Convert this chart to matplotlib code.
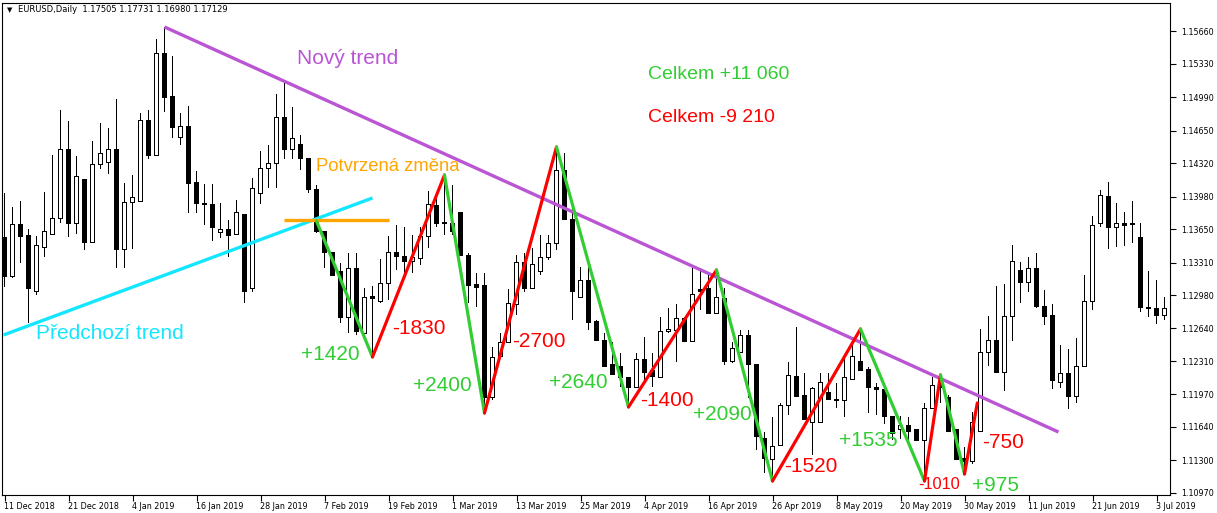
import matplotlib
matplotlib.use("Agg")
import matplotlib.pyplot as plt
from matplotlib.patches import Rectangle

# ---------------- data (EURUSD daily) ----------------
opens = [1.13559, 1.13163, 1.13691, 1.13589, 1.13011, 1.13467, 1.13599, 1.13752, 1.14462, 1.13711,
         1.14148, 1.13518, 1.14300, 1.14330, 1.14462, 1.13447, 1.13924, 1.13934, 1.14747, 1.14401,
         1.15427, 1.15000, 1.14574, 1.14686, 1.14127, 1.13914, 1.13894, 1.13610, 1.13650, 1.13599,
         1.13802, 1.13041, 1.14006, 1.14269, 1.14320, 1.14787, 1.14462, 1.14513, 1.14361, 1.14056,
         1.13620, 1.13407, 1.13214, 1.12747, 1.13254, 1.12594, 1.12960, 1.12909, 1.13092, 1.13407,
         1.13366, 1.13325, 1.13346, 1.13569, 1.13884, 1.13711, 1.13711, 1.13813, 1.13386, 1.13082,
         1.13072, 1.11935, 1.12351, 1.12493, 1.12879, 1.13305, 1.13051, 1.13214, 1.13356, 1.13498,
         1.14249, 1.13742, 1.12950, 1.13132, 1.12706, 1.12523, 1.12270, 1.12259, 1.12138, 1.12036,
         1.12330, 1.12209, 1.12138, 1.12605, 1.12615, 1.12737, 1.12513, 1.13031, 1.13041, 1.12797,
         1.12940, 1.12300, 1.12401, 1.12564, 1.12270, 1.11528, 1.11305, 1.11457, 1.11863, 1.12148,
         1.11955, 1.11681, 1.11681, 1.11995, 1.11914, 1.11914, 1.12127, 1.12300, 1.12219, 1.12046,
         1.12016, 1.11742, 1.11610, 1.11660, 1.11610, 1.11498, 1.11823, 1.12097, 1.11935, 1.11610,
         1.11325, 1.11285, 1.11599, 1.12401, 1.12523, 1.12198, 1.12757, 1.13224, 1.13112, 1.13254,
         1.12868, 1.12767, 1.12087, 1.12188, 1.11945, 1.12259, 1.12919, 1.13701, 1.13985, 1.13670,
         1.13701, 1.13701, 1.13559, 1.12858, 1.12848, 1.12767]
highs = [1.14016, 1.13874, 1.13934, 1.13650, 1.13579, 1.14026, 1.14401, 1.14858, 1.14747, 1.14391,
         1.14148, 1.14544, 1.14726, 1.14676, 1.14970, 1.14117, 1.14198, 1.14828, 1.14858, 1.15579,
         1.15701, 1.15406, 1.14828, 1.14899, 1.14239, 1.14107, 1.14107, 1.13914, 1.13742, 1.13945,
         1.13802, 1.14168, 1.14442, 1.14503, 1.15021, 1.15143, 1.14889, 1.14604, 1.14361, 1.14097,
         1.13620, 1.13407, 1.13305, 1.13407, 1.13407, 1.13051, 1.13072, 1.13346, 1.13579, 1.13691,
         1.13670, 1.13589, 1.13670, 1.14036, 1.13995, 1.14198, 1.14097, 1.13823, 1.13407, 1.13204,
         1.13204, 1.12452, 1.12594, 1.13041, 1.13386, 1.13407, 1.13457, 1.13589, 1.13589, 1.14483,
         1.14422, 1.13894, 1.13264, 1.13264, 1.12726, 1.12594, 1.12503, 1.12391, 1.12148, 1.12391,
         1.12554, 1.12391, 1.12757, 1.12848, 1.12889, 1.12757, 1.13254, 1.13254, 1.13204, 1.13234,
         1.13051, 1.12503, 1.12625, 1.12625, 1.12270, 1.11589, 1.11742, 1.11884, 1.12300, 1.12655,
         1.12188, 1.12046, 1.12188, 1.12188, 1.12087, 1.12351, 1.12554, 1.12635, 1.12249, 1.12087,
         1.12016, 1.11742, 1.11752, 1.11742, 1.11620, 1.11884, 1.12148, 1.12168, 1.11965, 1.11610,
         1.11437, 1.11792, 1.12635, 1.12767, 1.13072, 1.13092, 1.13488, 1.13315, 1.13366, 1.13407,
         1.13031, 1.12889, 1.12473, 1.12432, 1.12544, 1.13183, 1.13782, 1.14046, 1.14127, 1.13914,
         1.13823, 1.13934, 1.13711, 1.13224, 1.13132, 1.12960]
lows = [1.13061, 1.13153, 1.13305, 1.12696, 1.12980, 1.13366, 1.13599, 1.13711, 1.13569, 1.13599,
        1.13437, 1.13518, 1.14259, 1.14209, 1.13254, 1.13254, 1.13447, 1.13934, 1.14361, 1.14401,
        1.14838, 1.14574, 1.14503, 1.13813, 1.13813, 1.13691, 1.13528, 1.13559, 1.13366, 1.13599,
        1.12899, 1.13011, 1.13904, 1.14066, 1.14066, 1.14361, 1.14361, 1.14249, 1.14016, 1.13610,
        1.13254, 1.13173, 1.12696, 1.12594, 1.12574, 1.12554, 1.12351, 1.12899, 1.12929, 1.13234,
        1.13183, 1.13204, 1.13285, 1.13457, 1.13670, 1.13589, 1.13589, 1.13376, 1.12899, 1.12858,
        1.11782, 1.11914, 1.12341, 1.12493, 1.12777, 1.13011, 1.13051, 1.13183, 1.13335, 1.13437,
        1.13742, 1.12726, 1.12950, 1.12625, 1.12523, 1.12249, 1.12168, 1.12046, 1.11843, 1.12036,
        1.12117, 1.12046, 1.12138, 1.12594, 1.12300, 1.12503, 1.12513, 1.12828, 1.12797, 1.12797,
        1.12270, 1.12290, 1.12401, 1.11935, 1.11407, 1.11173, 1.11092, 1.11447, 1.11762, 1.11945,
        1.11721, 1.11356, 1.11681, 1.11914, 1.11833, 1.11742, 1.12127, 1.12209, 1.11782, 1.11762,
        1.11671, 1.11508, 1.11518, 1.11508, 1.11498, 1.11092, 1.11823, 1.11884, 1.11599, 1.11305,
        1.11163, 1.11264, 1.11599, 1.12259, 1.12188, 1.12006, 1.12513, 1.12899, 1.13011, 1.12848,
        1.12676, 1.12026, 1.12036, 1.11823, 1.11884, 1.12249, 1.12828, 1.13670, 1.13447, 1.13467,
        1.13478, 1.13508, 1.12808, 1.12757, 1.12686, 1.12726]
closes = [1.13163, 1.13691, 1.13579, 1.13051, 1.13478, 1.13620, 1.13752, 1.14462, 1.13701, 1.14188,
          1.13518, 1.14300, 1.14412, 1.14462, 1.13447, 1.13924, 1.13965, 1.14747, 1.14401, 1.15427,
          1.14990, 1.14676, 1.14686, 1.14117, 1.13904, 1.13894, 1.13670, 1.13650, 1.13589, 1.13813,
          1.13011, 1.14066, 1.14269, 1.14320, 1.14787, 1.14462, 1.14564, 1.14361, 1.14056, 1.13620,
          1.13407, 1.13183, 1.12747, 1.13254, 1.12605, 1.12950, 1.12940, 1.13092, 1.13407, 1.13366,
          1.13325, 1.13356, 1.13569, 1.13894, 1.13701, 1.13701, 1.13620, 1.13386, 1.13072, 1.13061,
          1.11935, 1.12341, 1.12493, 1.12889, 1.13305, 1.13051, 1.13285, 1.13356, 1.13498, 1.14249,
          1.13742, 1.13011, 1.13132, 1.12696, 1.12523, 1.12259, 1.12178, 1.12138, 1.12036, 1.12330,
          1.12198, 1.12148, 1.12605, 1.12625, 1.12737, 1.12513, 1.12990, 1.13011, 1.12797, 1.12950,
          1.12300, 1.12442, 1.12564, 1.12270, 1.11539, 1.11325, 1.11437, 1.11863, 1.12158, 1.11945,
          1.11721, 1.12026, 1.12087, 1.11924, 1.11924, 1.12138, 1.12351, 1.12209, 1.12036, 1.12016,
          1.11742, 1.11579, 1.11660, 1.11599, 1.11498, 1.11823, 1.12066, 1.12036, 1.11599, 1.11305,
          1.11285, 1.11681, 1.12401, 1.12523, 1.12198, 1.12757, 1.13325, 1.13102, 1.13254, 1.12868,
          1.12757, 1.12107, 1.12188, 1.11945, 1.12259, 1.12919, 1.13681, 1.13995, 1.13670, 1.13701,
          1.13681, 1.13691, 1.12858, 1.12848, 1.12767, 1.12848]

date_labels = ["11 Dec 2018", "21 Dec 2018", "4 Jan 2019", "16 Jan 2019", "28 Jan 2019",
               "7 Feb 2019", "19 Feb 2019", "1 Mar 2019", "13 Mar 2019", "25 Mar 2019",
               "4 Apr 2019", "16 Apr 2019", "26 Apr 2019", "8 May 2019", "20 May 2019",
               "30 May 2019", "11 Jun 2019", "21 Jun 2019", "3 Jul 2019"]
date_label_step = 8
price_ticks = [1.15660, 1.15330, 1.14990, 1.14650, 1.14320, 1.13980, 1.13650, 1.13310,
               1.12980, 1.12640, 1.12310, 1.11970, 1.11640, 1.11300, 1.10970]

# zigzag swing points (bar index, price)
zz_idx = [39, 46, 55, 60, 69, 78, 89, 96, 107, 115, 117, 120, 121.6]
zz_price = [1.13731, 1.12351, 1.14198, 1.11782, 1.14483, 1.11843, 1.13234, 1.11092,
            1.12635, 1.11092, 1.12168, 1.11163, 1.11884]
# trend lines (bar index, price)
new_trend_idx = [20, 131.75]
new_trend_price = [1.15701, 1.11589]
prev_trend_idx = [-0.125, 46]
prev_trend_price = [1.12574, 1.13965]
confirm_idx = [34.9, 48]
confirm_price = 1.13742

# swing labels: text, bar index, price, colour
swing_labels = [
    ("+1420", 37.0, 1.12371, "g"), ("-1830", 48.5, 1.12645, "r"),
    ("+2400", 51.1, 1.12066, "g"), ("-2700", 63.5, 1.12503, "r"),
    ("+2640", 68.1, 1.12087, "g"), ("-1400", 79.5, 1.11904, "r"),
    ("+2090", 86.1, 1.11762, "g"), ("-1520", 97.5, 1.11244, "r"),
    ("+1535", 104.25, 1.11498, "g"), ("+975", 120.9, 1.11051, "g"),
    ("-750", 122.25, 1.11478, "r"),
]

GREEN = "#32CD32"
RED = "#FF0000"
PURPLE = "#BA55D3"
CYAN = "#14E6FF"
ORANGE = "#FFA500"

W, H = 1217, 513
fig = plt.figure(figsize=(W / 100, H / 100), dpi=100)
fig.patch.set_facecolor("white")
ax = fig.add_axes([2 / W, 18 / H, 1168 / W, 492 / H])
ax.set_facecolor("white")

n = len(opens)
xs = list(range(n))
px = 1 / 8.0          # one pixel in bar units
ppx = 0.00010152      # one pixel in price units

# candles: wick, black outer body, white inner body for bullish bars
for i in xs:
    o, h, l, c = opens[i], highs[i], lows[i], closes[i]
    ax.add_patch(Rectangle((i - 0.5 * px, l), px, h - l, facecolor="black",
                           edgecolor="none", lw=0, zorder=2, antialiased=False))
    bottom = min(o, c)
    height = max(abs(c - o), ppx)
    ax.add_patch(Rectangle((i - 2.5 * px, bottom - 0.5 * ppx), 5 * px, height + ppx,
                           facecolor="black", edgecolor="none", lw=0, zorder=3,
                           antialiased=False))
    if c > o and height > 1.5 * ppx:
        ax.add_patch(Rectangle((i - 1.5 * px, bottom + 0.5 * ppx), 3 * px, height - ppx,
                               facecolor="white", edgecolor="none", lw=0, zorder=3.5,
                               antialiased=False))

# trend lines
ax.plot(new_trend_idx, new_trend_price, color=PURPLE, lw=2.4, zorder=4, solid_capstyle="butt")
ax.plot(prev_trend_idx, prev_trend_price, color=CYAN, lw=2.4, zorder=4, solid_capstyle="butt")
ax.plot(confirm_idx, [confirm_price, confirm_price], color=ORANGE, lw=2.4, zorder=4,
        solid_capstyle="butt")

# zigzag
for k in range(len(zz_idx) - 1):
    col = GREEN if zz_price[k + 1] < zz_price[k] else RED
    ax.plot(zz_idx[k:k + 2], zz_price[k:k + 2], color=col, lw=2.3, zorder=5,
            solid_capstyle="round")

font = "Liberation Sans"
for txt, xi, yp, cc in swing_labels:
    ax.text(xi, yp, txt, color=GREEN if cc == "g" else RED, fontsize=15, family=font,
            ha="left", va="center", zorder=6)
ax.text(114.25, 1.11061, "-1010", color=RED, fontsize=11.8, family=font,
        ha="left", va="center", zorder=6)
ax.text(36.6, 1.15386, "Nový trend", color=PURPLE, fontsize=15, family=font,
        ha="left", va="center", zorder=6)
ax.text(3.9, 1.12594, "Předchozí trend", color=CYAN, fontsize=15, family=font,
        ha="left", va="center", zorder=6)
ax.text(39.0, 1.14280, "Potvrzená změna", color=ORANGE, fontsize=13.3, family=font,
        ha="left", va="center", zorder=6)
ax.text(80.4, 1.15214, "Celkem +11 060", color=GREEN, fontsize=14, family=font,
        ha="left", va="center", zorder=6)
ax.text(80.4, 1.14787, "Celkem -9 210", color=RED, fontsize=14, family=font,
        ha="left", va="center", zorder=6)

# axes (bar centres on pixel centres)
ax.set_xlim(-0.3125, 145.6875)
ax.set_ylim(1.159749 - 495 * ppx, 1.159749 - 3 * ppx)
ax.yaxis.tick_right()
ax.set_yticks(price_ticks)
ax.set_yticklabels([f"{v:.5f}" for v in price_ticks], fontsize=5.8, family="DejaVu Sans")
ax.set_xticks([k * date_label_step for k in range(len(date_labels))])
ax.set_xticklabels(date_labels, fontsize=5.8, family="DejaVu Sans", ha="left")
ax.tick_params(axis="y", direction="out", length=4, width=0.8, pad=4, colors="black")
ax.tick_params(axis="x", direction="out", length=4, width=0.8, pad=1, colors="black")
for s in ax.spines.values():
    s.set_color("black")
    s.set_linewidth(0.8)

# header
fig.text(7 / W, 1 - 10 / H, "▼", fontsize=5, family="DejaVu Sans", ha="left", va="center")
fig.text(18 / W, 1 - 10 / H, "EURUSD,Daily  1.17505 1.17731 1.16980 1.17129",
         fontsize=6, family="DejaVu Sans", ha="left", va="center")

fig.savefig("out.png", dpi=100, facecolor="white")
